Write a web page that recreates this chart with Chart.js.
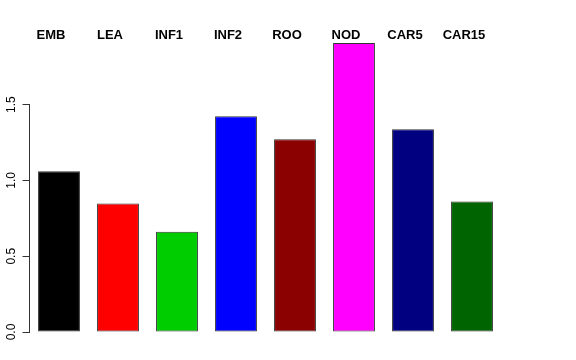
<!DOCTYPE html>
<html>
<head>
<meta charset="utf-8">
<script src="https://cdn.jsdelivr.net/npm/chart.js@4/dist/chart.umd.min.js"></script>
<style>
  html, body { margin: 0; padding: 0; background: #fff; }
  #wrap { width: 576px; height: 360px; }
</style>
</head>
<body>
<div id="wrap"><canvas id="chart"></canvas></div>
<script>
// ==========================================
// DATA
// ==========================================
const tissues = ['EMB', 'LEA', 'INF1', 'INF2', 'ROO', 'NOD', 'CAR5', 'CAR15'];
const values  = [1.06, 0.848, 0.662, 1.424, 1.272, 1.907, 1.338, 0.861];
const barColors = ['#000000', '#FF0000', '#00CD00', '#0000FF', '#8B0000', '#FF00FF', '#000080', '#006400'];
const yTicks = [0, 0.5, 1.0, 1.5];

// labels over each bar, drawn at the category positions
const topLabels = {
    id: 'topLabels',
    afterDraw(chart) {
        const ctx = chart.ctx;
        const x = chart.scales.x;
        ctx.save();
        ctx.font = 'bold 13px "Liberation Sans", Arial, sans-serif';
        ctx.fillStyle = '#000';
        ctx.textAlign = 'center';
        ctx.textBaseline = 'middle';
        tissues.forEach((t, i) => {
            ctx.fillText(t, x.getPixelForValue(i) - 8, 35);
        });
        ctx.restore();
    }
};

// R style axis line only from first to last tick
const yAxisLine = {
    id: 'yAxisLine',
    afterDraw(chart) {
        const y = chart.scales.y;
        const ctx = chart.ctx;
        const x0 = Math.round(y.right) - 0.5;
        ctx.save();
        ctx.strokeStyle = '#333';
        ctx.lineWidth = 1;
        ctx.beginPath();
        ctx.moveTo(x0, y.getPixelForValue(yTicks[0]));
        ctx.lineTo(x0, y.getPixelForValue(yTicks[yTicks.length - 1]));
        ctx.stroke();
        ctx.restore();
    }
};

new Chart(document.getElementById('chart'), {
    type: 'bar',
    data: {
        labels: tissues,
        datasets: [{
            data: values,
            backgroundColor: barColors,
            borderColor: '#333',
            borderWidth: 1,
            borderSkipped: false,
            barPercentage: 0.71,
            categoryPercentage: 1.0
        }]
    },
    options: {
        responsive: true,
        maintainAspectRatio: false,
        animation: false,
        layout: { padding: { left: 0, right: 74.5, top: 42.5, bottom: 28 } },
        plugins: { legend: { display: false }, tooltip: { enabled: false } },
        scales: {
            x: { display: false },
            y: {
                min: 0,
                max: 1.91,
                afterBuildTicks: (s) => { s.ticks = yTicks.map(v => ({ value: v })); },
                afterFit: (s) => { s.width = 29.5; },
                border: { display: false },
                grid: { drawOnChartArea: false, tickLength: 7, color: '#333' },
                ticks: {
                    minRotation: 90,
                    maxRotation: 90,
                    crossAlign: 'center',
                    padding: 2,
                    color: '#000',
                    font: { family: '"Liberation Sans", Arial, sans-serif', size: 12 },
                    callback: (v) => Number(v).toFixed(1)
                }
            }
        }
    },
    plugins: [topLabels, yAxisLine]
});
</script>
</body>
</html>
